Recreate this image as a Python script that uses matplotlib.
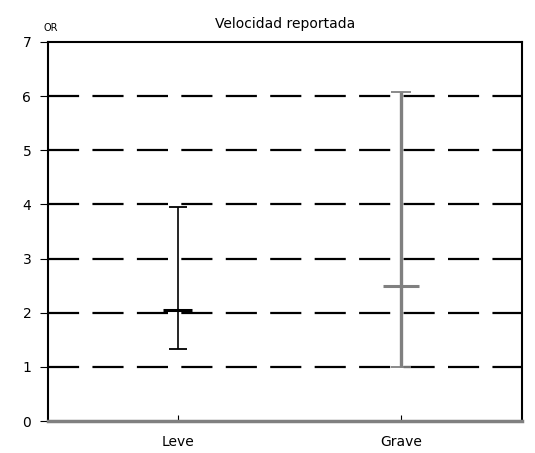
import matplotlib.pyplot as plt

categories = ['Leve', 'Grave']
or_center = [2.05, 2.49]
ci_low = [1.33, 1.0]
ci_high = [3.96, 6.07]
ref_lines = [1, 2, 3, 4, 5, 6]
y_ticks = [0, 1, 2, 3, 4, 5, 6, 7]

fig = plt.figure(figsize=(5.35, 4.53), dpi=100)
ax = fig.add_axes([0.0897, 0.0706, 0.886, 0.8367])

for y in ref_lines:
    ax.axhline(y, color='black', linestyle=(0, (14, 6)), linewidth=1.6, zorder=1)

pos = [1, 2]
colors = ['black', '#808080']
widths = [1.2, 2.4]
cap_half = [0.04, 0.045]
mid_half = [0.065, 0.08]
for i, p in enumerate(pos):
    ax.vlines(p, ci_low[i], ci_high[i], color=colors[i], linewidth=widths[i], zorder=3)
    ax.hlines([ci_low[i], ci_high[i]], p - cap_half[i], p + cap_half[i], color=colors[i],
              linewidth=1.3, zorder=3)
    ax.hlines(or_center[i], p - mid_half[i], p + mid_half[i], color=colors[i],
              linewidth=2.2, zorder=4)

ax.set_xlim(0.42, 2.54)
ax.set_ylim(0, 7)
ax.set_yticks(y_ticks)
ax.set_xticks(pos)
ax.set_xticklabels(categories, fontsize=10)
ax.tick_params(axis='y', direction='out', length=6, labelsize=10, pad=6)
ax.tick_params(axis='x', direction='in', length=4, labelsize=10, pad=10)

for side in ['left', 'top', 'right']:
    ax.spines[side].set_linewidth(1.5)
ax.spines['bottom'].set_color('#808080')
ax.spines['bottom'].set_linewidth(2.5)

ax.text(-0.01, 1.025, 'OR', transform=ax.transAxes, fontsize=7, ha='left', va='bottom')
ax.set_title('Velocidad reportada', fontsize=10, pad=10)

fig.savefig('out.png', dpi=100)
